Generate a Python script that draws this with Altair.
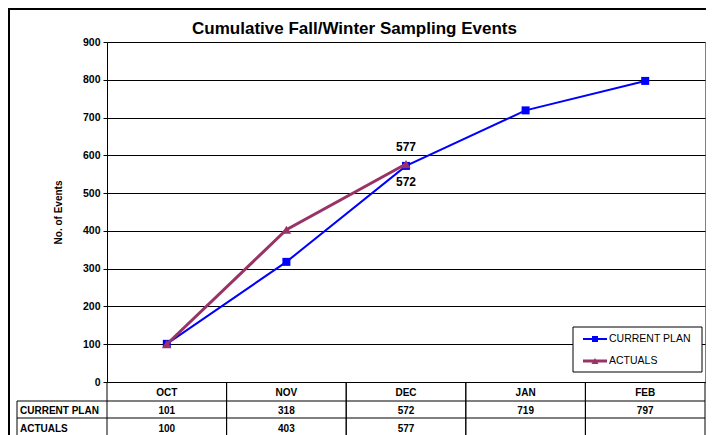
import altair as alt
import pandas as pd

# ---------------- data ----------------
months = ["OCT", "NOV", "DEC", "JAN", "FEB"]
plan_values = [101, 318, 572, 719, 797]
actual_values = [100, 403, 577]
series_names = ["CURRENT PLAN", "ACTUALS"]
series_colors = ["#0000FF", "#993366"]
y_ticks = [0, 100, 200, 300, 400, 500, 600, 700, 800, 900]
label_month = "DEC"
title_text = "Cumulative Fall/Winter Sampling Events"

rows = []
for m, v in zip(months, plan_values):
    rows.append({"month": m, "series": "CURRENT PLAN", "value": v})
for m, v in zip(months, actual_values):
    rows.append({"month": m, "series": "ACTUALS", "value": v})
df = pd.DataFrame(rows)
month_df = pd.DataFrame({"month": months})
one = pd.DataFrame({"k": [0]})

W, H = 598, 340
FONT = "Liberation Sans, Arial, sans-serif"

x_scale = alt.Scale(domain=months, paddingInner=0, paddingOuter=0)
x_axis = alt.Axis(title=None, labelAngle=0, labelFontWeight="bold", labelFontSize=10,
                  labelColor="black", ticks=False, tickSize=0, labelPadding=5,
                  domainColor="black", domainWidth=1, grid=False)


def X(**kw):
    return alt.X("month:N", sort=months, scale=x_scale, axis=x_axis, **kw)


y_scale = alt.Scale(domain=[0, 900], nice=False, zero=True)
y_axis = alt.Axis(values=y_ticks, title="No. of Events", titleFontSize=10, titleFontWeight="bold",
                  titleColor="black", titleX=-49, titleY=170, titleAngle=270, titleAlign="center",
                  titleBaseline="middle", grid=True, gridColor="black", gridWidth=1,
                  tickSize=4, tickColor="black", domainColor="black", labelColor="black",
                  labelFontWeight="bold", labelFontSize=10.5, labelPadding=3)
Y = alt.Y("value:Q", scale=y_scale, axis=y_axis)

color = alt.Color("series:N", scale=alt.Scale(domain=series_names, range=series_colors), legend=None)

base = alt.Chart(df)

# outer frame
frame = alt.Chart(one).mark_rect(fill="transparent", stroke="black", strokeWidth=2).encode(
    x=alt.value(-98), x2=alt.value(W + 2), y=alt.value(-33), y2=alt.value(430))

# title as a text mark (centred on the whole frame, like the original)
title = alt.Chart(pd.DataFrame({"t": [title_text]})).mark_text(
    fontSize=17, fontWeight="bold", color="black", font=FONT, align="center", baseline="middle"
).encode(x=alt.value(247.5), y=alt.value(-13), text="t:N")

plan = base.transform_filter(alt.datum.series == "CURRENT PLAN")
actual = base.transform_filter(alt.datum.series == "ACTUALS")

plan_line = plan.mark_line(strokeWidth=2).encode(x=X(), y=Y, color=color)
plan_pts = plan.mark_point(shape="square", filled=True, size=64, opacity=1).encode(x=X(), y=Y, color=color)
act_line = actual.mark_line(strokeWidth=3).encode(x=X(), y=Y, color=color)
act_pts = actual.mark_point(shape="triangle-up", filled=True, size=90, opacity=1).encode(x=X(), y=Y, color=color)

lab_plan = plan.transform_filter(alt.datum.month == label_month).mark_text(
    fontWeight="bold", fontSize=12, dy=16, color="black", font=FONT).encode(
    x=X(), y=Y, text="value:Q")
lab_act = actual.transform_filter(alt.datum.month == label_month).mark_text(
    fontWeight="bold", fontSize=12, dy=-17, color="black", font=FONT).encode(
    x=X(), y=Y, text="value:Q")

# data table below the chart
tbl_h = alt.Chart(pd.DataFrame({"r": [359, 376]})).mark_rule(color="black", strokeWidth=1).encode(
    x=alt.value(-90), x2=alt.value(W), y=alt.Y("r:Q", scale=None))
tbl_left = alt.Chart(one).mark_rule(color="black", strokeWidth=1).encode(
    x=alt.value(-90), y=alt.value(359), y2=alt.value(430))
tbl_v0 = alt.Chart(month_df).mark_rule(color="black", strokeWidth=1).encode(
    x=X(bandPosition=0), y=alt.value(H), y2=alt.value(430))
tbl_v1 = alt.Chart(month_df).mark_rule(color="black", strokeWidth=1).encode(
    x=X(bandPosition=1), y=alt.value(H), y2=alt.value(430))

row_y = {"CURRENT PLAN": 368.5, "ACTUALS": 386.5}
tbl_layers = []
for s in series_names:
    tbl_layers.append(
        alt.Chart(pd.DataFrame({"series": [s]})).mark_text(
            align="left", baseline="middle", fontWeight="bold", fontSize=10, color="black", font=FONT
        ).encode(x=alt.value(-87), y=alt.value(row_y[s]), text="series:N"))
    tbl_layers.append(
        base.transform_filter(alt.datum.series == s).mark_text(
            baseline="middle", fontWeight="bold", fontSize=10, color="black", font=FONT
        ).encode(x=X(), y=alt.value(row_y[s]), text="value:Q"))

# legend
leg_box = alt.Chart(one).mark_rect(fill="white", stroke="black", strokeWidth=1).encode(
    x=alt.value(466), x2=alt.value(595), y=alt.value(285), y2=alt.value(330))
leg_y = {"CURRENT PLAN": 297, "ACTUALS": 319}
leg_w = {"CURRENT PLAN": 2, "ACTUALS": 3}
leg_shape = {"CURRENT PLAN": "square", "ACTUALS": "triangle-up"}
leg_size = {"CURRENT PLAN": 36, "ACTUALS": 50}
leg_layers = []
for s in series_names:
    sd = alt.Chart(pd.DataFrame({"series": [s]}))
    leg_layers.append(sd.mark_rule(strokeWidth=leg_w[s]).encode(
        x=alt.value(476), x2=alt.value(500), y=alt.value(leg_y[s]), color=color))
    leg_layers.append(sd.mark_point(shape=leg_shape[s], filled=True, size=leg_size[s], opacity=1).encode(
        x=alt.value(488), y=alt.value(leg_y[s]), color=color))
    leg_layers.append(sd.mark_text(align="left", baseline="middle", fontSize=10.5, color="black", font=FONT).encode(
        x=alt.value(502), y=alt.value(leg_y[s]), text="series:N"))

chart = alt.layer(
    frame, title, plan_line, plan_pts, act_line, act_pts, lab_plan, lab_act,
    tbl_h, tbl_left, tbl_v0, tbl_v1, *tbl_layers, leg_box, *leg_layers
).properties(
    width=W, height=H,
    autosize=alt.AutoSizeParams(type="none"),
    padding={"left": 99, "top": 34, "right": 1, "bottom": 53},
).configure(font=FONT).configure_view(stroke="#808080", strokeWidth=1)

chart.save("out.html", embed_options={"renderer": "svg", "actions": False})
